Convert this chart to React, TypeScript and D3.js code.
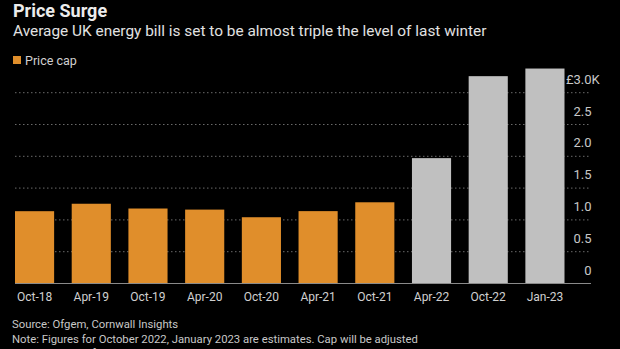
import React from "react";
import * as d3 from "d3";

const categories = ["Oct-18", "Apr-19", "Oct-19", "Apr-20", "Oct-20", "Apr-21", "Oct-21", "Apr-22", "Oct-22", "Jan-23"];
const values = [1.137, 1.254, 1.179, 1.162, 1.042, 1.138, 1.277, 1.971, 3.26, 3.38];
const isEstimate = [false, false, false, false, false, false, false, true, true, true];
const yTicks = [0, 0.5, 1.0, 1.5, 2.0, 2.5, 3.0];

const W = 620;
const H = 349;
const FONT = "Roboto, 'Noto Sans', sans-serif";
const ORANGE = "#e08e2b";
const GRAY = "#c0c0c0";

export default function App() {
  const plotLeft = 15;
  const plotRight = 591;
  const x = d3
    .scaleBand<string>()
    .domain(categories)
    .range([plotLeft, 564.5])
    .paddingInner(0.31)
    .paddingOuter(0);
  const y = d3.scaleLinear().domain([0, 3]).range([283.5, 92.7]);

  return (
    <div style={{ position: "fixed", left: 0, top: 0, width: W, height: H, background: "#000" }}>
      <svg width={W} height={H} style={{ display: "block", fontFamily: FONT }}>
        <rect x={0} y={0} width={W} height={H} fill="#000" />
        <text x={13} y={17} fontSize={18} fontWeight={700} fill="#ececec">Price Surge</text>
        <text x={13} y={36} fontSize={15.4} fill="#e2e2e2">Average UK energy bill is set to be almost triple the level of last winter</text>
        <rect x={13} y={56} width={8} height={8} fill={ORANGE} />
        <text x={25} y={64.5} fontSize={12.5} fill="#d0d0d0">Price cap</text>

        {yTicks.filter((t) => t > 0).map((t) => (
          <line key={"g" + t} x1={plotLeft} x2={plotRight} y1={y(t)} y2={y(t)} stroke="#6a6a6a" strokeWidth={1} strokeDasharray="1.5,2.5" />
        ))}

        {categories.map((c, i) => (
          <rect key={c} x={x(c)} y={y(values[i])} width={x.bandwidth()} height={y(0) - y(values[i])} fill={isEstimate[i] ? GRAY : ORANGE} />
        ))}

        <line x1={plotLeft} x2={plotRight} y1={y(0)} y2={y(0)} stroke="#8a8a8a" strokeWidth={1.2} />

        {yTicks.map((t) => (
          <text key={"t" + t} x={591.5} y={y(t) - 9} fontSize={13} fill="#c8c8c8" textAnchor="end">
            {t === 3 ? "£" + d3.format(".1f")(t) : t === 0 ? "0" : d3.format(".1f")(t)}
          </text>
        ))}
        <text x={591.5} y={y(3) - 9} fontSize={13} fill="#c8c8c8" textAnchor="start">K</text>

        {categories.map((c) => (
          <text key={"x" + c} x={(x(c) as number) + x.bandwidth() / 2} y={300.7} fontSize={12} fill="#d0d0d0" textAnchor="middle">{c}</text>
        ))}

        <text x={12} y={328.3} fontSize={11.3} fill="#c8c8c8">Source: Ofgem, Cornwall Insights</text>
        <text x={12} y={342.7} fontSize={11.3} fill="#c8c8c8">Note: Figures for October 2022, January 2023 are estimates. Cap will be adjusted</text>
        <text x={12} y={357} fontSize={11.3} fill="#c8c8c8">every 3 months from January.</text>
      </svg>
    </div>
  );
}
